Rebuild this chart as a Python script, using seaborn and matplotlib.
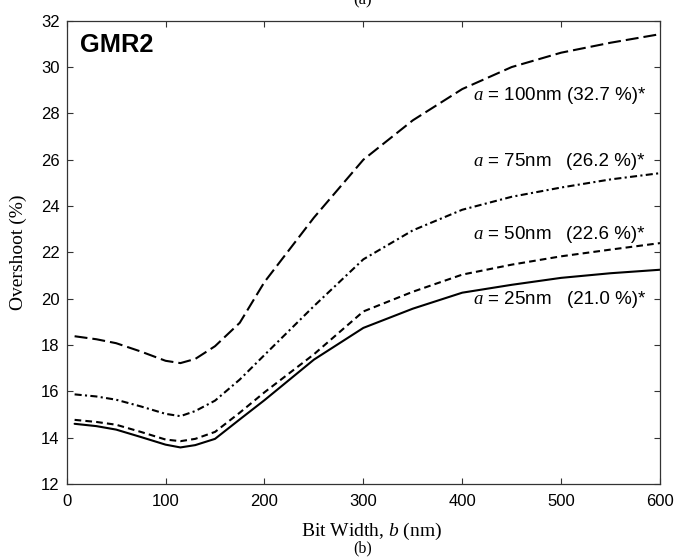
import numpy as np
import pandas as pd
import matplotlib
matplotlib.use("Agg")
import matplotlib.pyplot as plt
import seaborn as sns

# ---- data ----
bit_width = [8, 30, 50, 75, 100, 115, 130, 150, 175, 200, 250, 300, 350, 400, 450, 500, 550, 600]
a100 = [18.38, 18.25, 18.08, 17.72, 17.32, 17.22, 17.40, 17.95, 18.96, 20.72, 23.50, 26.00, 27.70, 29.05, 30.00, 30.62, 31.05, 31.42]
a75 = [15.87, 15.78, 15.64, 15.35, 15.03, 14.93, 15.15, 15.60, 16.51, 17.57, 19.68, 21.70, 22.95, 23.84, 24.40, 24.80, 25.15, 25.42]
a50 = [14.77, 14.68, 14.56, 14.25, 13.92, 13.85, 13.95, 14.25, 15.08, 15.96, 17.60, 19.45, 20.30, 21.04, 21.47, 21.83, 22.12, 22.40]
a25 = [14.60, 14.50, 14.35, 14.03, 13.70, 13.58, 13.68, 13.95, 14.79, 15.62, 17.37, 18.74, 19.57, 20.26, 20.60, 20.90, 21.10, 21.25]

series_names = ["a100", "a75", "a50", "a25"]
label_left = ["$a$ = 100nm", "$a$ = 75nm", "$a$ = 50nm", "$a$ = 25nm"]
label_right = ["(32.7 %)*", "(26.2 %)*", "(22.6 %)*", "(21.0 %)*"]
x_ticks = [0, 100, 200, 300, 400, 500, 600]
y_ticks = [12, 14, 16, 18, 20, 22, 24, 26, 28, 30, 32]

df = pd.DataFrame({
    "b": bit_width * 4,
    "overshoot": a100 + a75 + a50 + a25,
    "series": sum([[n] * len(bit_width) for n in series_names], []),
})

sns.set_style("ticks")
plt.rcParams["font.family"] = ["Liberation Sans", "DejaVu Sans"]
plt.rcParams["mathtext.fontset"] = "custom"
plt.rcParams["mathtext.it"] = "Liberation Serif:italic"
plt.rcParams["mathtext.rm"] = "Liberation Serif"
plt.rcParams["text.color"] = "black"
plt.rcParams["axes.labelcolor"] = "black"
plt.rcParams["xtick.color"] = "black"
plt.rcParams["ytick.color"] = "black"

fig = plt.figure(figsize=(6.75, 5.57), dpi=100)
ax = fig.add_axes([0.0988, 0.131, 0.8790, 0.8318])

dashes = {"a100": (6.2, 2.4), "a75": (3.4, 1.6, 1.0, 1.6), "a50": (3.2, 2.0), "a25": ""}
sns.lineplot(data=df, x="b", y="overshoot", hue="series", style="series",
             palette={n: "black" for n in series_names}, dashes=dashes,
             linewidth=1.5, legend=False, ax=ax, sort=False)

ax.set_xlim(0, 600)
ax.set_ylim(12, 32)
ax.set_xticks(x_ticks)
ax.set_yticks(y_ticks)
ax.tick_params(direction="in", length=4, width=0.8, top=True, right=True,
               labelsize=12, color="#333333", labelcolor="black")
ax.tick_params(axis="x", pad=7)
ax.tick_params(axis="y", pad=5)
for s in ax.spines.values():
    s.set_linewidth(0.9)
    s.set_color("#333333")
    s.set_visible(True)

ax.set_xlabel("Bit Width, $b$ (nm)", family="Liberation Serif", fontsize=14)
ax.set_ylabel("Overshoot (%)", family="Liberation Serif", fontsize=14)
ax.xaxis.label.set_va("center")
ax.yaxis.label.set_va("center")
ax.xaxis.set_label_coords(0.513, -0.103)
ax.yaxis.set_label_coords(-0.082, 0.5)

ax.text(13.5, 30.95, "GMR2", fontsize=18.3, fontweight="bold", va="center", ha="left")

label_y = [28.77, 25.92, 22.76, 19.96]
for ll, lr, yy in zip(label_left, label_right, label_y):
    ax.text(411, yy, ll, fontsize=13.5, va="center", ha="left")
    ax.text(584.7, yy, lr, fontsize=13.5, va="center", ha="right")

fig.text(363 / 675, 1 - 4 / 557, "(a)", family="Liberation Serif", fontsize=12,
         ha="center", va="baseline")
fig.text(363 / 675, 1 - 548 / 557, "(b)", family="Liberation Serif", fontsize=11.5,
         ha="center", va="center")

fig.savefig("out.png", dpi=100)
